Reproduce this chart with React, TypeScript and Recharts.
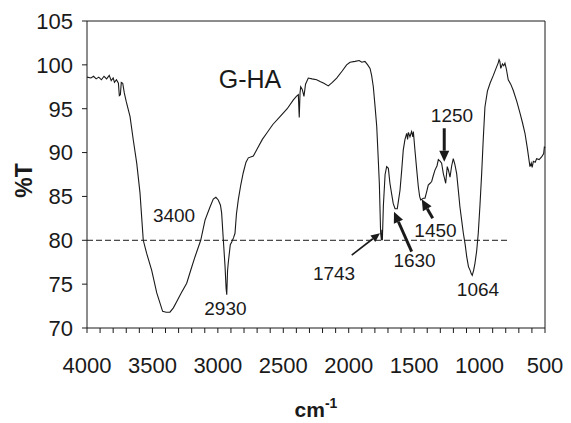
import React from 'react';
import { LineChart, Line, XAxis, YAxis, ReferenceLine, ReferenceDot } from 'recharts';

// IR spectrum of G-HA (wavenumber cm-1, %T)
const wavenumbers = [
  4000, 3970, 3950, 3930, 3910, 3890, 3870, 3850, 3830, 3815, 3800, 3790, 3775, 3760, 3753, 3745, 3738, 3727,
  3715, 3700, 3671, 3646, 3620, 3595, 3570, 3544, 3506, 3467, 3422, 3395, 3366, 3340, 3315, 3280, 3238, 3205,
  3175, 3131, 3098, 3060, 3035, 3015, 2997, 2980, 2971, 2958, 2945, 2937, 2932, 2926, 2920, 2905, 2894, 2880,
  2869, 2858, 2844, 2825, 2806, 2785, 2767, 2729, 2700, 2660, 2627, 2580, 2525, 2470, 2423, 2400, 2385, 2378,
  2372, 2367, 2355, 2342, 2330, 2309, 2280, 2245, 2219, 2190, 2156, 2125, 2092, 2050, 2016, 1990, 1952, 1920,
  1900, 1876, 1855, 1837, 1825, 1812, 1800, 1786, 1775, 1766, 1756, 1750, 1746, 1743, 1735, 1722, 1710, 1697,
  1685, 1672, 1660, 1646, 1629, 1620, 1608, 1595, 1583, 1570, 1557, 1550, 1544, 1532, 1520, 1510, 1506, 1494,
  1480, 1468, 1458, 1450, 1430, 1417, 1405, 1392, 1378, 1366, 1355, 1341, 1325, 1315, 1300, 1290, 1277, 1265,
  1259, 1247, 1238, 1226, 1213, 1201, 1188, 1175, 1163, 1150, 1137, 1124, 1110, 1098, 1085, 1073, 1064, 1056,
  1045, 1035, 1022, 1010, 997, 984, 972, 959, 940, 920, 895, 869, 858, 851, 845, 838, 825, 815,
  806, 795, 781, 762, 743, 715, 691, 672, 653, 635, 615, 605, 598, 589, 575, 564, 545, 526,
  510, 505, 500,
];
const transmittance = [
  98.6, 98.5, 98.7, 98.4, 98.6, 98.3, 98.7, 98.4, 98.8, 98.2, 98.5, 98.0, 98.3, 97.9, 96.5, 96.6, 98.0, 97.9,
  96.8, 95.8, 94.1, 91.4, 88.8, 85.4, 80.0, 78.5, 76.6, 74.0, 71.9, 71.8, 71.8, 72.3, 73.0, 74.0, 75.1, 76.7,
  78.1, 80.0, 82.3, 83.8, 84.7, 84.9, 84.6, 84.0, 83.1, 80.0, 77.0, 74.5, 73.8, 76.5, 77.5, 79.5, 79.8, 80.3,
  80.8, 83.0, 84.6, 86.3, 87.7, 88.9, 89.4, 89.6, 90.4, 91.5, 92.2, 93.2, 94.1, 95.0, 96.0, 96.4, 96.6, 94.0,
  96.8, 97.5, 97.2, 96.4, 97.8, 98.5, 98.4, 98.3, 98.1, 97.9, 97.6, 98.0, 98.5, 99.3, 100.0, 100.3, 100.4, 100.5,
  100.3, 100.4, 100.0, 99.6, 98.8, 97.5, 95.5, 93.0, 89.5, 86.5, 80.8, 80.0, 81.2, 80.0, 84.0, 87.5, 88.4, 88.2,
  86.5, 85.3, 84.2, 83.6, 83.6, 84.5, 85.7, 88.0, 90.3, 91.5, 92.2, 91.5, 92.3, 91.8, 92.4, 91.8, 92.4, 90.3,
  88.0, 86.1, 85.0, 84.6, 84.8, 84.8, 85.5, 86.3, 86.5, 86.7, 87.3, 88.0, 88.5, 89.2, 89.0, 88.8, 87.6, 86.9,
  86.5, 88.4, 88.0, 87.2, 88.5, 89.3, 88.6, 87.6, 85.8, 83.8, 82.3, 80.8, 79.5, 78.1, 77.0, 76.6, 76.2, 76.0,
  76.6, 77.4, 78.8, 80.8, 84.0, 87.6, 91.5, 95.2, 97.0, 97.9, 98.8, 99.8, 100.2, 100.6, 100.4, 99.6, 100.1, 99.9,
  100.2, 99.5, 98.3, 97.8, 97.1, 95.8, 94.5, 93.4, 92.2, 90.5, 88.4, 88.8, 88.3, 89.0, 88.9, 89.3, 89.2, 89.5,
  89.9, 90.6, 90.5,
];

const yTicks = [70, 75, 80, 85, 90, 95, 100, 105];

// peak labels: text, wavenumber / %T of the label's centre-baseline
const peakLabels = ['G-HA', '3400', '2930', '1743', '1630', '1450', '1250', '1064'];
const peakLabelX = [2754, 3335, 2942, 2112, 1497, 1337, 1211, 1012];
const peakLabelY = [97.36, 82.08, 71.48, 75.47, 76.95, 80.37, 93.49, 73.65];

// arrows: from (x1,y1) to (x2,y2), bold or thin
const arrowFromX = [1977, 1519, 1358, 1270];
const arrowFromY = [78.32, 78.7, 82.5, 92.77];
const arrowToX = [1761, 1654, 1442, 1270];
const arrowToY = [80.8, 83.26, 84.67, 88.96];
const arrowBold = [false, true, true, true];

const data = wavenumbers.map((wn, i) => ({ wn, t: transmittance[i] }));
const allTicks = Array.from({ length: 36 }, (_, i) => 4000 - i * 100);

const FONT = '"Liberation Sans", Arial, Helvetica, sans-serif';

function makeArrow(bold: boolean) {
  return (props: any) => {
    const { x1, y1, x2, y2 } = props;
    const w = bold ? 3 : 1.6;
    const head = bold ? 11 : 9;
    const half = bold ? 5 : 4;
    const ang = Math.atan2(y2 - y1, x2 - x1);
    const bx = x2 - head * Math.cos(ang);
    const by = y2 - head * Math.sin(ang);
    const px = -Math.sin(ang) * half;
    const py = Math.cos(ang) * half;
    return (
      <g>
        <line x1={x1} y1={y1} x2={bx} y2={by} stroke="#1a1a1a" strokeWidth={w} />
        <polygon points={`${x2},${y2} ${bx + px},${by + py} ${bx - px},${by - py}`} fill="#1a1a1a" />
      </g>
    );
  };
}

const XTick = (props: any) => {
  const { x, y, payload } = props;
  if (payload.value % 500 !== 0) return <g />;
  return (
    <text x={x} y={y + 38} textAnchor="middle" fontSize={22} fontFamily={FONT} fill="#1a1a1a">
      {payload.value}
    </text>
  );
};

export default function App() {
  return (
    <div style={{ position: 'absolute', left: 0, top: 0, width: 571, height: 423, background: '#fff' }}>
      <LineChart width={571} height={423} data={data} margin={{ top: 21, right: 26, left: 0, bottom: 0 }}>
        <XAxis
          dataKey="wn"
          type="number"
          domain={[500, 4000]}
          reversed
          ticks={allTicks}
          interval={0}
          tick={<XTick />}
          tickSize={5}
          height={95}
          axisLine={{ stroke: '#1a1a1a' }}
          tickLine={{ stroke: '#1a1a1a' }}
          label={{
            content: (p: any) => {
              const vb = p.viewBox;
              return (
                <text x={vb.x + vb.width / 2} y={417} textAnchor="middle" fontFamily={FONT} fontWeight="bold" fontSize={21} fill="#1a1a1a">
                  cm<tspan dy={-9} fontSize={14}>-1</tspan>
                </text>
              );
            },
          }}
        />
        <YAxis
          type="number"
          domain={[70, 105]}
          ticks={yTicks}
          interval={0}
          width={87}
          tickSize={5}
          tickMargin={9}
          tick={{ fontSize: 22, fontFamily: FONT, fill: '#1a1a1a' }}
          axisLine={{ stroke: '#1a1a1a' }}
          tickLine={{ stroke: '#1a1a1a' }}
          label={{
            content: (p: any) => {
              const vb = p.viewBox;
              const cy = vb.y + vb.height / 2 + 6;
              return (
                <text x={32} y={cy} transform={`rotate(-90, 32, ${cy})`} textAnchor="middle" fontFamily={FONT} fontWeight="bold" fontSize={23} fill="#1a1a1a">
                  %T
                </text>
              );
            },
          }}
        />
        <ReferenceLine y={105} stroke="#1a1a1a" />
        <ReferenceLine x={500} stroke="#1a1a1a" />
        <ReferenceLine
          segment={[{ x: 4000, y: 80 }, { x: 770, y: 80 }]}
          stroke="#1a1a1a"
          strokeDasharray="6 3"
        />
        <Line
          dataKey="t"
          stroke="#1a1a1a"
          strokeWidth={1.1}
          dot={false}
          isAnimationActive={false}
          type="linear"
        />
        {arrowFromX.map((fx, i) => (
          <ReferenceLine
            key={'a' + i}
            segment={[{ x: fx, y: arrowFromY[i] }, { x: arrowToX[i], y: arrowToY[i] }]}
            shape={makeArrow(arrowBold[i])}
          />
        ))}
        {peakLabels.map((txt, i) => (
          <ReferenceDot
            key={'l' + i}
            x={peakLabelX[i]}
            y={peakLabelY[i]}
            r={0}
            shape={(p: any) => (
              <text x={p.cx} y={p.cy} textAnchor="middle" fontFamily={FONT} fontSize={txt === 'G-HA' ? 25 : 19} fill="#1a1a1a">
                {txt}
              </text>
            )}
          />
        ))}
      </LineChart>
    </div>
  );
}
